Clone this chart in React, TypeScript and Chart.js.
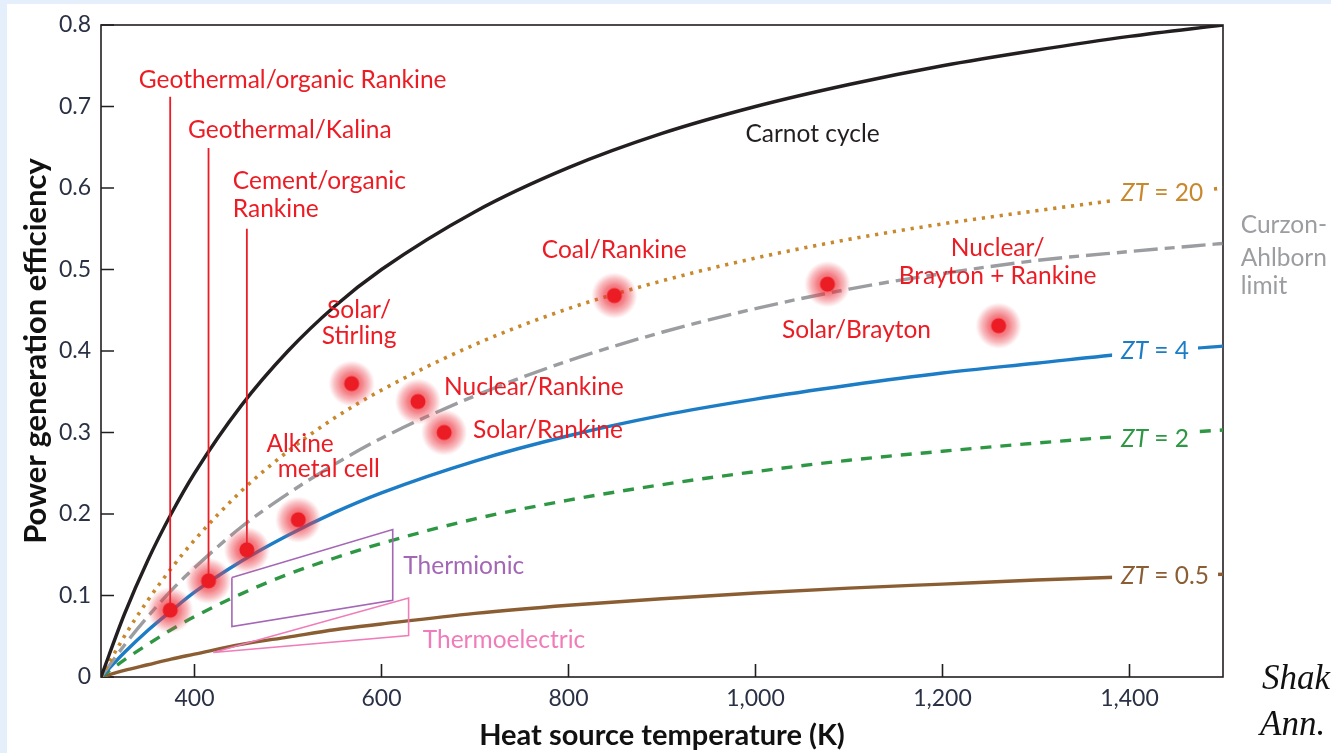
import { useEffect, useRef } from 'react';
import { Chart, registerables } from 'chart.js';

Chart.register(...registerables);

// ---------- data ----------
const TEMPS = [300, 325, 350, 375, 400, 450, 500, 550, 600, 700, 800, 900, 1000, 1100, 1200, 1300, 1400, 1500];
const CARNOT = [0, 0.077, 0.143, 0.2, 0.25, 0.333, 0.4, 0.455, 0.5, 0.571, 0.625, 0.667, 0.7, 0.727, 0.75, 0.769, 0.786, 0.8];
const ZT20 = [0, 0.05, 0.094, 0.133, 0.168, 0.228, 0.277, 0.318, 0.352, 0.408, 0.452, 0.486, 0.514, 0.537, 0.556, 0.572, 0.587, 0.6];
const CURZON = [0, 0.039, 0.074, 0.106, 0.134, 0.184, 0.225, 0.261, 0.293, 0.345, 0.388, 0.423, 0.452, 0.476, 0.495, 0.511, 0.522, 0.532];
const ZT4 = [0, 0.03, 0.057, 0.081, 0.104, 0.142, 0.174, 0.202, 0.226, 0.265, 0.296, 0.321, 0.341, 0.358, 0.373, 0.385, 0.397, 0.406];
const ZT2 = [0, 0.021, 0.04, 0.058, 0.074, 0.102, 0.126, 0.146, 0.164, 0.194, 0.217, 0.236, 0.252, 0.266, 0.277, 0.287, 0.296, 0.303];
const ZT05 = [0, 0.008, 0.015, 0.022, 0.028, 0.04, 0.049, 0.058, 0.065, 0.078, 0.088, 0.096, 0.103, 0.109, 0.114, 0.119, 0.123, 0.126];

const TECH_NAMES = ['Geothermal/organic Rankine', 'Geothermal/Kalina', 'Cement/organic Rankine', 'Alkine metal cell', 'Solar/Stirling', 'Nuclear/Rankine', 'Solar/Rankine', 'Coal/Rankine', 'Solar/Brayton', 'Nuclear/Brayton + Rankine'];
const TECH_T = [374, 415, 456, 511, 568, 639, 667, 849, 1077, 1260];
const TECH_EFF = [0.082, 0.118, 0.156, 0.193, 0.36, 0.338, 0.3, 0.468, 0.482, 0.431];

const LEADER_IDX = [0, 1, 2];
const LEADER_TOP = [0.712, 0.649, 0.55];

const THERMIONIC_T = [440, 612, 612, 440, 440];
const THERMIONIC_EFF = [0.122, 0.181, 0.094, 0.062, 0.122];
const THERMOELECTRIC_T = [420, 629, 629, 420];
const THERMOELECTRIC_EFF = [0.03, 0.097, 0.051, 0.03];

const X_TICKS = [400, 600, 800, 1000, 1200, 1400];
const Y_TICKS = [0, 0.1, 0.2, 0.3, 0.4, 0.5, 0.6, 0.7, 0.8];

// annotation text (anchor in data units)
const RED_TEXT = ['Geothermal/organic Rankine', 'Geothermal/Kalina', 'Cement/organic', 'Rankine', 'Solar/', 'Stirling', 'Alkine', 'metal cell', 'Coal/Rankine', 'Nuclear/Rankine', 'Solar/Rankine', 'Nuclear/', 'Brayton + Rankine', 'Solar/Brayton'];
const RED_T = [505, 502, 441, 441, 576, 576, 477, 489, 849, 763, 778, 1259, 1259, 1108];
const RED_EFF = [0.723, 0.661, 0.599, 0.565, 0.441, 0.408, 0.276, 0.246, 0.514, 0.346, 0.293, 0.517, 0.482, 0.4165];
const RED_ALIGN = ['center', 'center', 'left', 'left', 'center', 'center', 'left', 'left', 'center', 'center', 'center', 'center', 'center', 'center'];

const ZT_VALUES = ['20', '4', '2', '0.5'];
const ZT_LABEL_T = 1391;
const ZT_LABEL_EFF = [0.584, 0.39, 0.282, 0.114];

const CURZON_TEXT = ['Curzon-', 'Ahlborn', 'limit'];
const CURZON_LABEL_T = 1519;
const CURZON_LABEL_EFF = [0.545, 0.504, 0.47];

// ---------- styles ----------
const FONT = 'Lato, "Open Sans", sans-serif';
const LABEL_SIZE = 24.5;
const RED = '#ec1c24';
const AXIS = '#231f20';
const TICK_COLOR = '#2a3145';
const C_CARNOT = '#231f20';
const C_ZT20 = '#c8892e';
const C_CURZON = '#9b9da0';
const C_ZT4 = '#1c7dc6';
const C_ZT2 = '#2e9743';
const C_ZT05 = '#8b5d33';
const C_THERMIONIC = '#a467b6';
const C_THERMOELECTRIC = '#f07cb9';
const ZT_COLORS = [C_ZT20, C_ZT4, C_ZT2, C_ZT05];

const pts = (xs: number[], ys: number[]) => xs.map((x, i) => ({ x, y: ys[i] }));

const annotPlugin = {
  id: 'annot',
  beforeDatasetsDraw(chart: any) {
    const { ctx, chartArea, scales } = chart;
    const { left, right, top, bottom } = chartArea;
    ctx.save();
    ctx.strokeStyle = AXIS;
    ctx.lineWidth = 1.6;
    ctx.strokeRect(left, top, right - left, bottom - top);
    ctx.beginPath();
    X_TICKS.forEach((v) => {
      const px = scales.x.getPixelForValue(v);
      ctx.moveTo(px, bottom);
      ctx.lineTo(px, bottom - 13);
    });
    Y_TICKS.forEach((v) => {
      const py = scales.y.getPixelForValue(v);
      ctx.moveTo(left, py);
      ctx.lineTo(left + 13, py);
    });
    ctx.stroke();
    ctx.restore();
  },
  afterDatasetsDraw(chart: any) {
    const { ctx, scales } = chart;
    const X = (v: number) => scales.x.getPixelForValue(v);
    const Y = (v: number) => scales.y.getPixelForValue(v);
    const normal = `${LABEL_SIZE}px ${FONT}`;
    const italic = `italic ${LABEL_SIZE}px ${FONT}`;
    ctx.save();
    ctx.textBaseline = 'alphabetic';
    ctx.font = normal;
    ctx.fillStyle = RED;
    RED_TEXT.forEach((t, i) => {
      ctx.textAlign = RED_ALIGN[i];
      ctx.fillText(t, X(RED_T[i]), Y(RED_EFF[i]));
    });
    ctx.textAlign = 'center';
    ctx.fillStyle = '#231f20';
    ctx.fillText('Carnot cycle', X(1061), Y(0.656));
    ctx.fillStyle = C_THERMIONIC;
    ctx.fillText('Thermionic', X(688), Y(0.126));
    ctx.fillStyle = C_THERMOELECTRIC;
    ctx.fillText('Thermoelectric', X(731), Y(0.036));

    ctx.textAlign = 'left';
    ctx.fillStyle = C_CURZON;
    CURZON_TEXT.forEach((t, i) => ctx.fillText(t, X(CURZON_LABEL_T), Y(CURZON_LABEL_EFF[i])));

    ZT_VALUES.forEach((val, i) => {
      const x0 = X(ZT_LABEL_T);
      const y0 = Y(ZT_LABEL_EFF[i]);
      ctx.font = italic;
      const w1 = ctx.measureText('ZT').width;
      ctx.font = normal;
      const rest = ' = ' + val;
      const w2 = ctx.measureText(rest).width;
      ctx.fillStyle = '#ffffff';
      ctx.fillRect(x0 - 9, y0 - 20, w1 + w2 + 18, 26);
      ctx.fillStyle = ZT_COLORS[i];
      ctx.font = italic;
      ctx.fillText('ZT', x0, y0);
      ctx.font = normal;
      ctx.fillText(rest, x0 + w1, y0);
    });

    ctx.font = `italic 35px "Liberation Serif", serif`;
    ctx.fillStyle = '#111';
    ctx.textAlign = 'left';
    ctx.fillText('Shak', 1262, 689);
    ctx.fillText('Ann.', 1260, 735);
    ctx.restore();
  },
};

export default function App() {
  const ref = useRef<HTMLCanvasElement>(null);
  useEffect(() => {
    const canvas = ref.current!;
    const glow = document.createElement('canvas');
    glow.width = 48;
    glow.height = 48;
    const g = glow.getContext('2d')!;
    const grad = g.createRadialGradient(24, 24, 0, 24, 24, 23);
    grad.addColorStop(0, 'rgba(236,30,40,0.8)');
    grad.addColorStop(0.45, 'rgba(236,45,55,0.6)');
    grad.addColorStop(0.72, 'rgba(236,70,80,0.38)');
    grad.addColorStop(0.9, 'rgba(236,80,90,0.14)');
    grad.addColorStop(1, 'rgba(236,80,90,0)');
    g.fillStyle = grad;
    g.fillRect(0, 0, 48, 48);
    g.beginPath();
    g.arc(24, 24, 7.5, 0, Math.PI * 2);
    g.fillStyle = RED;
    g.fill();

    const curve = (label: string, data: number[], color: string, dash: number[], width = 3.3) => ({
      label,
      data: pts(TEMPS, data),
      showLine: true,
      borderColor: color,
      borderWidth: width,
      borderDash: dash,
      borderCapStyle: 'butt',
      pointRadius: 0,
      cubicInterpolationMode: 'monotone',
      fill: false,
    });

    const leaders = LEADER_IDX.map((idx, i) => ({
      label: 'leader ' + TECH_NAMES[idx],
      data: [
        { x: TECH_T[idx], y: LEADER_TOP[i] },
        { x: TECH_T[idx], y: TECH_EFF[idx] },
      ],
      showLine: true,
      borderColor: RED,
      borderWidth: 1.8,
      pointRadius: 0,
    }));

    const chart = new Chart(canvas, {
      type: 'scatter',
      data: {
        datasets: [
          {
            label: 'Technologies',
            data: pts(TECH_T, TECH_EFF),
            pointStyle: glow as any,
            pointRadius: 24,
            showLine: false,
          },
          ...leaders,
          {
            label: 'Thermionic',
            data: pts(THERMIONIC_T, THERMIONIC_EFF),
            showLine: true,
            borderColor: C_THERMIONIC,
            borderWidth: 1.6,
            pointRadius: 0,
          },
          {
            label: 'Thermoelectric',
            data: pts(THERMOELECTRIC_T, THERMOELECTRIC_EFF),
            showLine: true,
            borderColor: C_THERMOELECTRIC,
            borderWidth: 1.6,
            pointRadius: 0,
          },
          curve('Carnot cycle', CARNOT, C_CARNOT, [], 3.4),
          curve('ZT = 20', ZT20, C_ZT20, [3.2, 5.8], 3.6),
          curve('Curzon-Ahlborn limit', CURZON, C_CURZON, [24, 7, 10, 7], 3.4),
          curve('ZT = 4', ZT4, C_ZT4, [], 3.4),
          curve('ZT = 2', ZT2, C_ZT2, [11, 9], 3.4),
          curve('ZT = 0.5', ZT05, C_ZT05, [], 3.4),
        ] as any,
      },
      options: {
        responsive: false,
        animation: false,
        devicePixelRatio: 1,
        layout: { padding: { left: 0, right: 108, top: 24, bottom: 0 } },
        plugins: { legend: { display: false }, tooltip: { enabled: false } },
        scales: {
          x: {
            type: 'linear',
            min: 300,
            max: 1500,
            grid: { display: false, drawTicks: false },
            border: { display: false },
            afterBuildTicks: (s: any) => {
              s.ticks = X_TICKS.map((v) => ({ value: v }));
            },
            afterFit: (s: any) => {
              s.height = 76;
            },
            ticks: {
              autoSkip: false,
              maxRotation: 0,
              padding: 8,
              color: TICK_COLOR,
              font: { family: FONT, size: 23 },
              callback: (v: any) => Number(v).toLocaleString('en-US'),
            },
            title: {
              display: true,
              text: 'Heat source temperature (K)',
              color: '#111',
              font: { family: FONT, size: 29, weight: 'bold' },
              padding: { top: 0, bottom: 0 },
            },
          },
          y: {
            type: 'linear',
            min: 0,
            max: 0.8,
            grid: { display: false, drawTicks: false },
            border: { display: false },
            afterBuildTicks: (s: any) => {
              s.ticks = Y_TICKS.map((v) => ({ value: v }));
            },
            afterFit: (s: any) => {
              s.width = 101;
            },
            ticks: {
              autoSkip: false,
              padding: 10,
              color: TICK_COLOR,
              font: { family: FONT, size: 23 },
              callback: (v: any) => (Number(v) === 0 ? '0' : Number(v).toFixed(1)),
            },
            title: {
              display: true,
              text: 'Power generation efficiency',
              color: '#111',
              font: { family: FONT, size: 31, weight: 'bold' },
              padding: { top: 17, bottom: 0 },
            },
          },
        },
      } as any,
      plugins: [annotPlugin],
    });
    return () => chart.destroy();
  }, []);

  return (
    <div style={{ position: 'fixed', left: 0, top: 0, width: 1331, height: 753, background: '#e4effb', overflow: 'hidden' }}>
      <div style={{ position: 'absolute', left: 7, top: 4, right: 0, bottom: 0, background: '#ffffff' }} />
      <canvas ref={ref} width={1331} height={753} style={{ position: 'absolute', left: 0, top: 0, width: 1331, height: 753 }} />
    </div>
  );
}
